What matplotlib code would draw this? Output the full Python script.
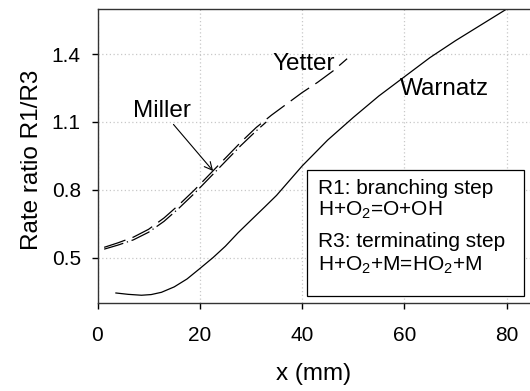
import numpy as np
import matplotlib
matplotlib.use('Agg')
import matplotlib.pyplot as plt

plt.rcParams['font.family'] = ['Liberation Sans', 'DejaVu Sans']
plt.rcParams['mathtext.fontset'] = 'custom'
plt.rcParams['mathtext.rm'] = 'Liberation Sans'
plt.rcParams['mathtext.it'] = 'Liberation Sans:italic'

# Warnatz (solid)
warnatz_x = [3.6, 6, 8.6, 10.5, 12.5, 15, 17.5, 20, 22.6, 25, 27.5, 30, 32.7, 35,
             40, 45, 50, 55, 60, 65, 70, 75, 80]
warnatz_y = [0.343, 0.337, 0.333, 0.336, 0.346, 0.37, 0.405, 0.451, 0.5, 0.55, 0.61,
             0.665, 0.724, 0.775, 0.905, 1.02, 1.12, 1.215, 1.30, 1.385, 1.46, 1.53, 1.60]

# Yetter (long dash)
yetter_x = [1.3, 4, 7, 10, 13, 16, 19, 22, 25, 28, 31, 34, 37, 40, 43, 46, 48.8]
yetter_y = [0.545, 0.565, 0.59, 0.625, 0.675, 0.735, 0.80, 0.87, 0.94, 1.01, 1.075,
            1.13, 1.18, 1.23, 1.275, 1.325, 1.38]

# Miller (dash-dot)
miller_x = [1.3, 4, 7, 10, 13, 16, 19, 22, 25, 28, 31, 33]
miller_y = [0.537, 0.555, 0.578, 0.612, 0.66, 0.72, 0.785, 0.855, 0.925, 0.995, 1.06, 1.10]

x_ticks = [0, 20, 40, 60, 80]
y_ticks = [0.5, 0.8, 1.1, 1.4]

fig = plt.figure(figsize=(5.3, 3.91), dpi=100)
ax = fig.add_axes([97.5/530, 1-302.7/391, (530-97.5)/530, (302.7-9)/391])

ax.plot(warnatz_x, warnatz_y, color='black', lw=0.9)
ax.plot(yetter_x, yetter_y, color='black', lw=0.9, dashes=(18, 6))
ax.plot(miller_x, miller_y, color='black', lw=0.9, dashes=(16, 3, 1, 3))

ax.set_xlim(0, 84.55)
ax.set_ylim(0.3, 1.6)
ax.set_xticks(x_ticks)
ax.set_yticks(y_ticks)
ax.set_yticklabels(['0.5', '0.8', '1.1', '1.4'])
ax.grid(True, color='#c8c8c8', linestyle=(0, (1, 2)), lw=0.9)
ax.tick_params(direction='out', length=4, width=1, labelsize=15)
ax.tick_params(axis='x', pad=13)
ax.tick_params(axis='y', pad=8)
ax.spines['right'].set_visible(False)
for s in ['top', 'left', 'bottom']:
    ax.spines[s].set_color('#333333')
    ax.spines[s].set_linewidth(1.0)

ax.set_xlabel('x (mm)', fontsize=17.5)
ax.xaxis.set_label_coords(0.5, -0.205)
ax.set_ylabel('Rate ratio R1/R3', fontsize=17.5)
ax.yaxis.set_label_coords(-0.127, 0.487)

ax.annotate('Miller', xy=(22.6, 0.883), xytext=(6.9, 1.15), fontsize=17.5,
            va='center', ha='left',
            arrowprops=dict(arrowstyle='->', color='black', lw=0.8,
                            shrinkA=0, shrinkB=0, mutation_scale=14),
            )
ax.text(34.1, 1.356, 'Yetter', fontsize=17.5, va='center', ha='left')
ax.text(59.1, 1.245, 'Warnatz', fontsize=17.5, va='center', ha='left')

# box with reaction text
ax.add_patch(plt.Rectangle((41.0, 0.329), 42.4, 0.557, fill=True, facecolor='white',
                           edgecolor='black', lw=0.9, zorder=3))
box_lines = ['R1: branching step', r'H+O$_2$=O+OH', 'R3: terminating step',
             r'H+O$_2$+M=HO$_2$+M']
box_y = [0.806, 0.709, 0.571, 0.465]
for t, yy in zip(box_lines, box_y):
    ax.text(43.1, yy, t, fontsize=15, va='center', ha='left', zorder=4)

plt.savefig('out.png', dpi=100)
